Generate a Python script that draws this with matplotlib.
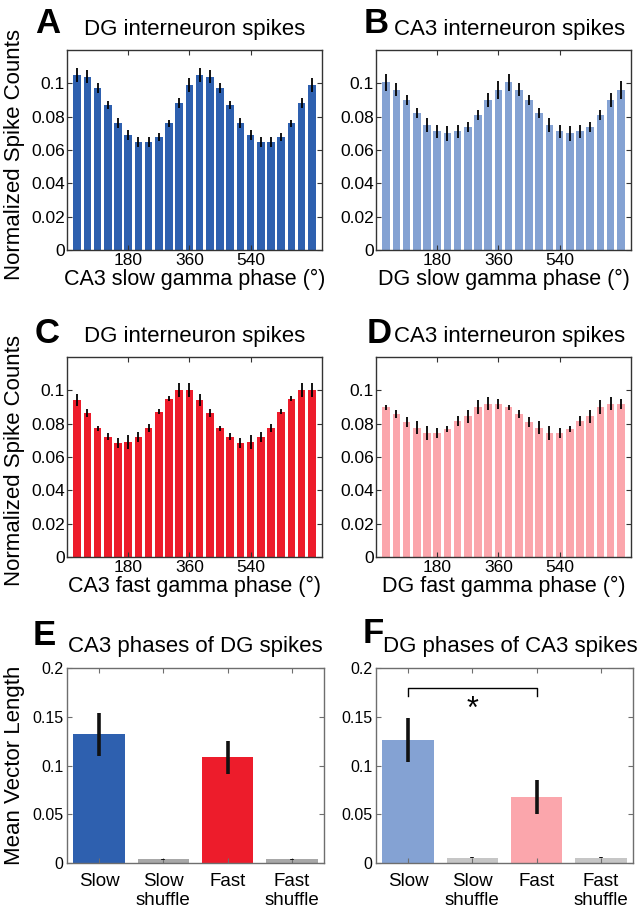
import matplotlib
matplotlib.use("Agg")
import matplotlib.pyplot as plt

plt.rcParams['font.family'] = ['Liberation Sans', 'DejaVu Sans']

# ---------------- data ----------------
phase_bins = [30, 60, 90, 120, 150, 180, 210, 240, 270, 300, 330, 360,
              390, 420, 450, 480, 510, 540, 570, 600, 630, 660, 690, 720]

dg_slow = [0.105, 0.104, 0.097, 0.087, 0.076, 0.069, 0.065, 0.065, 0.068, 0.076, 0.088, 0.099,
           0.105, 0.104, 0.097, 0.087, 0.076, 0.069, 0.065, 0.065, 0.068, 0.076, 0.088, 0.099]
dg_slow_err = [0.004, 0.004, 0.003, 0.0025, 0.003, 0.003, 0.003, 0.003, 0.0025, 0.002, 0.003, 0.004,
               0.004, 0.004, 0.003, 0.0025, 0.003, 0.003, 0.003, 0.003, 0.0025, 0.002, 0.003, 0.004]

ca3_slow = [0.1005, 0.0962, 0.090, 0.082, 0.075, 0.0712, 0.070, 0.0712, 0.074, 0.081, 0.090, 0.0962,
            0.1005, 0.0962, 0.090, 0.082, 0.075, 0.0712, 0.070, 0.0712, 0.074, 0.081, 0.090, 0.0962]
ca3_slow_err = [0.005, 0.004, 0.003, 0.003, 0.004, 0.004, 0.0045, 0.004, 0.003, 0.003, 0.004, 0.0055,
                0.005, 0.004, 0.003, 0.003, 0.004, 0.004, 0.0045, 0.004, 0.003, 0.003, 0.004, 0.0055]

dg_fast = [0.0944, 0.0864, 0.0774, 0.0722, 0.0682, 0.069, 0.0718, 0.0776, 0.0872, 0.095, 0.1003, 0.1003,
           0.0944, 0.0864, 0.0774, 0.0722, 0.0682, 0.069, 0.0718, 0.0776, 0.0872, 0.095, 0.1003, 0.1003]
dg_fast_err = [0.0035, 0.0025, 0.0015, 0.002, 0.003, 0.004, 0.003, 0.0025, 0.0015, 0.0015, 0.004, 0.004,
               0.0035, 0.0025, 0.0015, 0.002, 0.003, 0.004, 0.003, 0.0025, 0.0015, 0.0015, 0.004, 0.004]

ca3_fast = [0.090, 0.086, 0.081, 0.0776, 0.0744, 0.0744, 0.0768, 0.0814, 0.0844, 0.090, 0.092, 0.092,
            0.090, 0.086, 0.081, 0.0776, 0.0744, 0.0744, 0.0768, 0.0814, 0.0844, 0.090, 0.092, 0.092]
ca3_fast_err = [0.0015, 0.0025, 0.003, 0.004, 0.004, 0.003, 0.002, 0.003, 0.004, 0.004, 0.004, 0.003,
                0.0015, 0.0025, 0.003, 0.004, 0.004, 0.003, 0.002, 0.003, 0.004, 0.004, 0.004, 0.003]

mvl_labels = ['Slow', 'Slow\nshuffle', 'Fast', 'Fast\nshuffle']
mvl_dg = [0.132, 0.0038, 0.1085, 0.0038]
mvl_dg_err = [0.022, 0.0005, 0.017, 0.0005]
mvl_ca3 = [0.126, 0.0055, 0.068, 0.0055]
mvl_ca3_err = [0.0225, 0.0007, 0.0175, 0.0007]

# ---------------- style ----------------
BLUE = '#2E60AF'
LBLUE = '#84A2D3'
RED = '#ED1C2B'
PINK = '#FBA6AC'
GRAY_E = '#A8A8A8'
GRAY_F = '#C6C6C6'

W, H = 640, 918
fig = plt.figure(figsize=(W / 100, H / 100), dpi=100)


def rect(l, t, w, h):
    return [l / W, 1 - (t + h) / H, w / W, h / H]


def style_axes(ax, spine_color):
    for s in ax.spines.values():
        s.set_color(spine_color)
        s.set_linewidth(1.0)
    ax.tick_params(direction='in', top=True, right=True, length=3.5,
                   color=spine_color, width=0.8)


def phase_panel(ax, vals, errs, color, title, xlabel, shift):
    ax.bar(phase_bins, vals, width=22.5, color=color, edgecolor='none')
    ax.errorbar(phase_bins, vals, yerr=errs, fmt='none', ecolor='black',
                elinewidth=1.3, capsize=0)
    ax.set_xlim(0, 750)
    ax.set_ylim(0, 0.12)
    ax.set_xticks([180, 360, 540])
    ax.set_xticklabels(['180', '360', '540'])
    ax.set_yticks([0, 0.02, 0.04, 0.06, 0.08, 0.1])
    ax.set_yticklabels(['0', '0.02', '0.04', '0.06', '0.08', '0.1'])
    style_axes(ax, '#333333')
    ax.tick_params(axis='y', labelsize=12.5, pad=1.5)
    ax.tick_params(axis='x', labelsize=12.5, pad=2)
    ax.set_xlabel(xlabel, fontsize=15.5, labelpad=0.5)
    ax.text(0.5 + shift, 1.0 + 15 / 200, title, transform=ax.transAxes,
            ha='center', va='baseline', fontsize=16)
    return ax


axA = fig.add_axes(rect(67, 50, 255, 200))
phase_panel(axA, dg_slow, dg_slow_err, BLUE, 'DG interneuron spikes',
            'CA3 slow gamma phase (°)', 0.0)
axB = fig.add_axes(rect(376, 50, 255, 200))
phase_panel(axB, ca3_slow, ca3_slow_err, LBLUE, 'CA3 interneuron spikes',
            'DG slow gamma phase (°)', 0.024)
axC = fig.add_axes(rect(67, 357, 255, 200))
phase_panel(axC, dg_fast, dg_fast_err, RED, 'DG interneuron spikes',
            'CA3 fast gamma phase (°)', 0.0)
axD = fig.add_axes(rect(376, 357, 255, 200))
phase_panel(axD, ca3_fast, ca3_fast_err, PINK, 'CA3 interneuron spikes',
            'DG fast gamma phase (°)', 0.024)

for ax in (axA, axC):
    ax.set_ylabel('Normalized Spike Counts', fontsize=16)
    ax.yaxis.set_label_coords(-0.165, 0.48)


def mvl_panel(ax, vals, errs, colors, title, shift):
    x = [1, 2, 3, 4]
    ax.bar(x, vals, width=0.8, color=colors, edgecolor='none')
    ax.errorbar(x, vals, yerr=errs, fmt='none', ecolor='#111111',
                elinewidth=2.6, capsize=0)
    ax.set_xlim(0.5, 4.5)
    ax.set_ylim(0, 0.2)
    ax.set_xticks(x)
    ax.set_xticklabels(mvl_labels)
    ax.set_yticks([0, 0.05, 0.1, 0.15, 0.2])
    ax.set_yticklabels(['0', '0.05', '0.1', '0.15', '0.2'])
    style_axes(ax, '#6E6E6E')
    ax.tick_params(axis='y', labelsize=11.5, pad=2.5)
    ax.tick_params(axis='x', labelsize=13.5, pad=7)
    ax.text(0.5 + shift, 1.0 + 16 / 195, title, transform=ax.transAxes,
            ha='center', va='baseline', fontsize=16)


axE = fig.add_axes(rect(67, 668, 257, 195))
mvl_panel(axE, mvl_dg, mvl_dg_err, [BLUE, GRAY_E, RED, GRAY_E],
          'CA3 phases of DG spikes', 0.0)
axE.set_ylabel('Mean Vector Length', fontsize=16)
axE.yaxis.set_label_coords(-0.165, 0.5)

axF = fig.add_axes(rect(376, 668, 257, 195))
mvl_panel(axF, mvl_ca3, mvl_ca3_err, [LBLUE, GRAY_F, PINK, GRAY_F],
          'DG phases of CA3 spikes', 0.022)
# significance bracket Slow vs Fast
axF.plot([1, 1, 3, 3], [0.171, 0.18, 0.18, 0.171], color='black', lw=1.0)
axF.text(2, 0.157, '*', ha='center', va='center', fontsize=22)

# panel letters
letters = [('A', 35, 33), ('B', 364, 33), ('C', 35, 343),
           ('D', 367, 343), ('E', 33, 645), ('F', 363, 643)]
for lab, px, py in letters:
    fig.text(px / W, 1 - py / H, lab, fontsize=25, fontweight='heavy',
             ha='left', va='baseline')

fig.savefig('out.png', dpi=100)
